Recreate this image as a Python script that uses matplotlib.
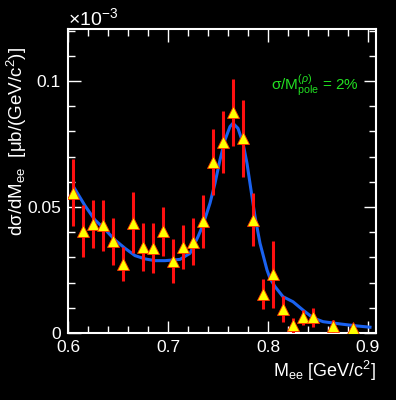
import numpy as np
import matplotlib.pyplot as plt

plt.rcParams['font.family'] = ['Liberation Sans', 'DejaVu Sans']
plt.rcParams['mathtext.fontset'] = 'custom'
plt.rcParams['mathtext.rm'] = 'Liberation Sans'
plt.rcParams['mathtext.it'] = 'Liberation Sans:italic'

# data points (y in units of 1e-3 ub/(GeV/c^2))
mass = [0.605, 0.615, 0.625, 0.635, 0.645, 0.655, 0.665, 0.675, 0.685, 0.695,
        0.705, 0.715, 0.725, 0.735, 0.745, 0.755, 0.765, 0.775, 0.785, 0.795,
        0.805, 0.815, 0.825, 0.835, 0.845, 0.865, 0.885]
xsec = [0.0556, 0.0405, 0.0433, 0.0427, 0.0364, 0.0275, 0.0438, 0.0341, 0.0337, 0.0404,
        0.0286, 0.0341, 0.0362, 0.0443, 0.0679, 0.0757, 0.0876, 0.0772, 0.0450, 0.0155,
        0.0233, 0.0095, 0.0030, 0.0063, 0.0062, 0.0027, 0.0018]
err = [0.0133, 0.0104, 0.0094, 0.0100, 0.0093, 0.0067, 0.0122, 0.0094, 0.0098, 0.0097,
       0.0087, 0.0087, 0.0094, 0.0105, 0.0131, 0.0124, 0.0133, 0.0152, 0.0104, 0.0060,
       0.0132, 0.0050, 0.0030, 0.0030, 0.0038, 0.0023, 0.0012]

# model curve
curve_x = [0.606, 0.617, 0.627, 0.637, 0.647, 0.657, 0.667, 0.677, 0.687, 0.697,
           0.712, 0.722, 0.730, 0.735, 0.742, 0.747, 0.752, 0.757, 0.762, 0.765,
           0.770, 0.775, 0.779, 0.783, 0.787, 0.792, 0.799, 0.802, 0.807, 0.815,
           0.825, 0.835, 0.845, 0.855, 0.872, 0.889, 0.902]
curve_y = [0.0577, 0.0505, 0.0448, 0.0411, 0.0369, 0.0336, 0.0307, 0.0294, 0.0287, 0.0287,
           0.0292, 0.0316, 0.0382, 0.0429, 0.0515, 0.0594, 0.0687, 0.0766, 0.0819, 0.0832,
           0.0812, 0.0753, 0.0673, 0.0567, 0.0462, 0.0356, 0.0250, 0.0217, 0.0184, 0.0144,
           0.0124, 0.0091, 0.0060, 0.0045, 0.0036, 0.0028, 0.0023]

fig = plt.figure(figsize=(3.96, 4.0), dpi=100, facecolor='black')
ax = fig.add_axes([68/396, 67/400, 308/396, 304/400], facecolor='black')

ax.plot(curve_x, curve_y, color='#1a62f0', lw=2.2, zorder=2)
ax.errorbar(mass, xsec, yerr=err, fmt='none', ecolor='#ff1010', elinewidth=2.2, capsize=0, zorder=3)
ax.plot(mass, xsec, ls='none', marker='^', ms=8, mfc='#ffff00', mec='#ff3000', mew=0.6, zorder=4)

ax.set_xlim(0.6, 0.908)
ax.set_ylim(0, 0.1206)

ax.set_xticks([0.6, 0.7, 0.8, 0.9])
ax.set_xticklabels(['0.6', '0.7', '0.8', '0.9'])
ax.set_xticks(np.arange(0.6, 0.91, 0.02), minor=True)
ax.set_yticks([0, 0.05, 0.1])
ax.set_yticklabels(['0', '0.05', '0.1'])
ax.set_yticks(np.arange(0, 0.121, 0.01), minor=True)

ax.tick_params(which='both', direction='in', colors='white', top=True, right=True,
               labelsize=12.5, width=1)
ax.tick_params(which='major', length=9, pad=5)
ax.tick_params(which='minor', length=5)
for s in ax.spines.values():
    s.set_color('white')
    s.set_linewidth(1.5)

ax.set_xlabel(r'M$_{\rm ee}$ [GeV/c$^2$]', color='white', fontsize=13)
ax.xaxis.set_label_coords(1.0, -0.085)
ax.xaxis.label.set_horizontalalignment('right')

ax.set_ylabel('dσ/dM$_{\\rm ee}$  [μb/(GeV/c$^2$)]', color='white', fontsize=13.5)
ax.yaxis.set_label_coords(-0.125, 0.63)

fig.text(68/396, 1 - 18/400, '×10$^{-3}$', color='white', fontsize=14, va='center')

ax.text(0.66, 0.80, 'σ/M$^{(ρ)}_{\\rm pole}$ = 2%', color='#22e022',
        fontsize=11, transform=ax.transAxes)

fig.savefig('out.png', dpi=100, facecolor='black')
